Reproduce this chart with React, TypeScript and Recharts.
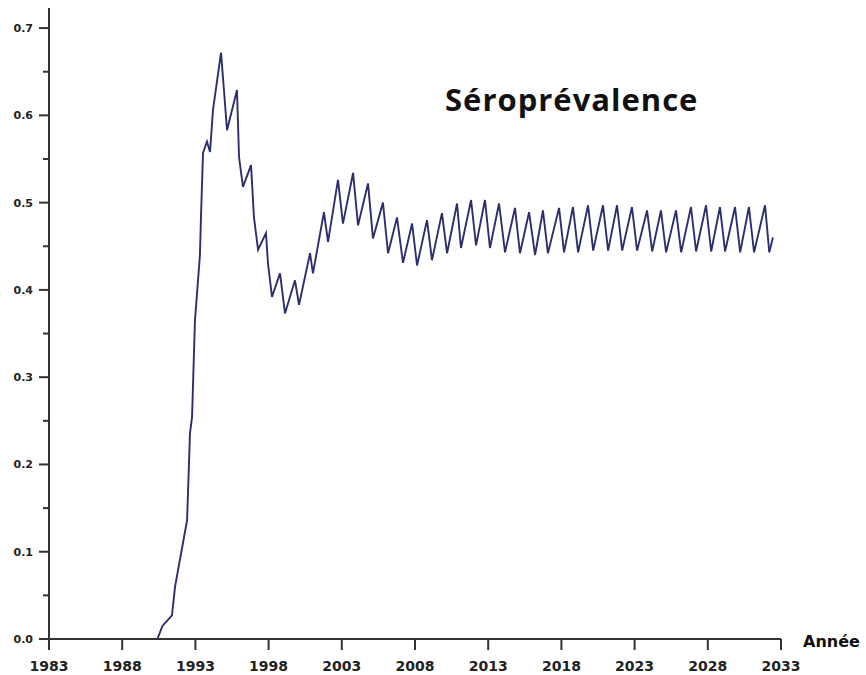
import React from 'react';
import { LineChart, Line, XAxis, YAxis } from 'recharts';

// Seroprevalence time series (year, fraction of population)
const YEARS = [
  1983, 1990.4, 1990.75, 1991.4, 1991.61, 1992.15, 1992.43, 1992.5, 1992.63, 1992.77,
  1992.97, 1993.31, 1993.38, 1993.52, 1993.79, 1994.0, 1994.2, 1994.75, 1994.95, 1995.16,
  1995.84, 1995.98, 1996.25, 1996.8, 1997.0, 1997.28, 1997.82, 1997.96, 1998.23, 1998.78,
  1999.12, 1999.8, 2000.08, 2000.83, 2001.03, 2001.78, 2002.06, 2002.74, 2003.08, 2003.77,
  2004.11, 2004.79, 2005.13, 2005.81, 2006.16, 2006.77, 2007.18, 2007.8, 2008.14, 2008.82,
  2009.16, 2009.84, 2010.19, 2010.87, 2011.14, 2011.83, 2012.17, 2012.78, 2013.12, 2013.74,
  2014.15, 2014.83, 2015.17, 2015.79, 2016.2, 2016.74, 2017.08, 2017.84, 2018.18, 2018.79,
  2019.14, 2019.82, 2020.17, 2020.84, 2021.19, 2021.8, 2022.15, 2022.82, 2023.17, 2023.85,
  2024.2, 2024.8, 2025.15, 2025.83, 2026.18, 2026.85, 2027.2, 2027.88, 2028.23, 2028.83,
  2029.18, 2029.86, 2030.21, 2030.81, 2031.16, 2031.91, 2032.2, 2032.45,
];

const PREVALENCE = [
  0, 0, 0.015, 0.027, 0.06, 0.11, 0.136, 0.17, 0.236, 0.254,
  0.365, 0.44, 0.483, 0.557, 0.57, 0.558, 0.606, 0.672, 0.629, 0.583,
  0.629, 0.552, 0.518, 0.543, 0.483, 0.446, 0.465, 0.43, 0.392, 0.419,
  0.373, 0.411, 0.383, 0.442, 0.419, 0.489, 0.455, 0.526, 0.476, 0.534,
  0.474, 0.522, 0.459, 0.5, 0.442, 0.483, 0.431, 0.476, 0.428, 0.48,
  0.434, 0.488, 0.442, 0.499, 0.448, 0.503, 0.451, 0.503, 0.448, 0.499,
  0.443, 0.494, 0.442, 0.489, 0.44, 0.491, 0.442, 0.494, 0.443, 0.495,
  0.443, 0.497, 0.445, 0.497, 0.445, 0.497, 0.445, 0.495, 0.445, 0.491,
  0.444, 0.491, 0.443, 0.491, 0.443, 0.495, 0.444, 0.497, 0.444, 0.495,
  0.444, 0.495, 0.443, 0.495, 0.443, 0.497, 0.443, 0.46,
];

const X_TICKS = [1983, 1988, 1993, 1998, 2003, 2008, 2013, 2018, 2023, 2028, 2033];
const Y_TICKS = [0, 0.05, 0.1, 0.15, 0.2, 0.25, 0.3, 0.35, 0.4, 0.45, 0.5, 0.55, 0.6, 0.65, 0.7];

const AXIS_COLOR = '#333';
const LINE_COLOR = '#2d2e6e';
const TICK_FONT = '"DejaVu Sans", Verdana, sans-serif';

const data = YEARS.map((year, i) => ({ year, value: PREVALENCE[i] }));

function YTick({ x, y, payload }: any) {
  const v = payload.value as number;
  const major = Math.abs(v * 10 - Math.round(v * 10)) < 1e-6;
  return (
    <g>
      <line x1={x - (major ? 10 : 6)} x2={x} y1={y} y2={y} stroke={AXIS_COLOR} strokeWidth={2} />
      {major && (
        <text
          x={x - 16}
          y={y}
          dy={4}
          textAnchor="end"
          fontFamily={TICK_FONT}
          fontWeight="bold"
          fontSize={11}
          fill="#222"
        >
          {v.toFixed(1)}
        </text>
      )}
    </g>
  );
}

function XTick({ x, y, payload }: any) {
  return (
    <g>
      <line x1={x} x2={x} y1={y} y2={y + 11} stroke={AXIS_COLOR} strokeWidth={2} />
      <text
        x={x}
        y={y + 32}
        textAnchor="middle"
        fontFamily={TICK_FONT}
        fontWeight="bold"
        fontSize={14}
        fill="#222"
      >
        {payload.value}
      </text>
    </g>
  );
}

export default function App() {
  return (
    <div
      style={{
        position: 'absolute',
        left: 0,
        top: 0,
        width: 866,
        height: 675,
        background: '#fff',
      }}
    >
      <LineChart
        width={866}
        height={675}
        data={data}
        margin={{ top: 8, right: 85, bottom: 6, left: 9 }}
      >
        <XAxis
          type="number"
          dataKey="year"
          domain={[1983, 2033]}
          ticks={X_TICKS}
          interval={0}
          height={30}
          tickSize={0}
          tickMargin={0}
          tickLine={false}
          axisLine={{ stroke: AXIS_COLOR, strokeWidth: 2 }}
          tick={XTick}
        />
        <YAxis
          type="number"
          domain={[0, 0.723]}
          ticks={Y_TICKS}
          interval={0}
          width={40}
          tickSize={0}
          tickMargin={0}
          tickLine={false}
          axisLine={{ stroke: AXIS_COLOR, strokeWidth: 2 }}
          tick={YTick}
        />
        <Line
          type="linear"
          dataKey="value"
          stroke={LINE_COLOR}
          strokeWidth={1.9}
          dot={false}
          isAnimationActive={false}
        />
      </LineChart>
      <div
        style={{
          position: 'absolute',
          left: 445,
          top: 78,
          fontFamily: '"Open Sans", sans-serif',
          fontWeight: 700,
          fontSize: 31,
          letterSpacing: 1,
          color: '#111',
          whiteSpace: 'nowrap',
        }}
      >
        Séroprévalence
      </div>
      <div
        style={{
          position: 'absolute',
          left: 803,
          top: 632,
          fontFamily: TICK_FONT,
          fontWeight: 700,
          fontSize: 16,
          color: '#111',
          whiteSpace: 'nowrap',
        }}
      >
        Année
      </div>
    </div>
  );
}
